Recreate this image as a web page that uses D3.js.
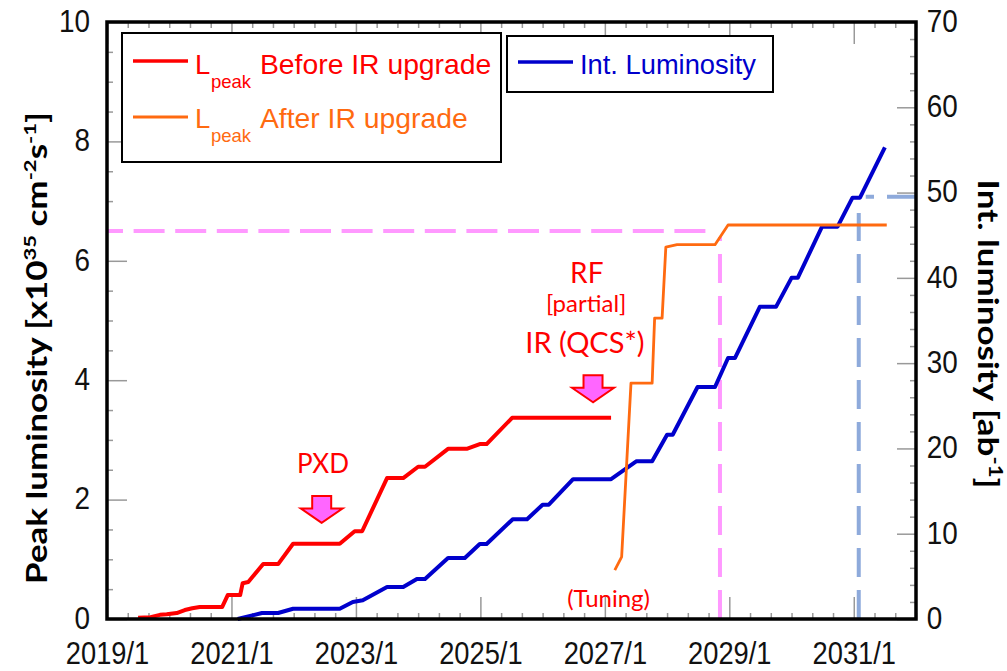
<!DOCTYPE html>
<html><head><meta charset="utf-8">
<script src="https://cdn.jsdelivr.net/npm/d3@7"></script>
<style>body{margin:0;background:#fff} svg{display:block}</style>
</head><body><svg id="c" width="1007" height="671"></svg>
<script>
// ---- data ----
const xTickValues = [2019, 2021, 2023, 2025, 2027, 2029, 2031];
const xTickLabels = ["2019/1", "2021/1", "2023/1", "2025/1", "2027/1", "2029/1", "2031/1"];
const yLeftTicks = [0, 2, 4, 6, 8, 10];
const yRightTicks = [0, 10, 20, 30, 40, 50, 60, 70];

const beforeYears = [2019.50, 2019.70, 2019.85, 2019.96, 2020.12, 2020.25, 2020.37, 2020.49, 2020.85, 2020.94, 2021.14, 2021.18, 2021.27, 2021.51, 2021.75, 2021.99, 2022.74, 2022.98, 2023.10, 2023.50, 2023.76, 2024.00, 2024.11, 2024.48, 2024.78, 2024.99, 2025.10, 2025.51, 2027.10];
const beforePeak  = [0.02, 0.03, 0.07, 0.08, 0.10, 0.15, 0.18, 0.20, 0.20, 0.40, 0.40, 0.60, 0.62, 0.92, 0.92, 1.26, 1.26, 1.47, 1.47, 2.36, 2.36, 2.55, 2.55, 2.85, 2.85, 2.93, 2.93, 3.37, 3.37];

const afterYears = [2027.16, 2027.27, 2027.42, 2027.76, 2027.80, 2027.92, 2027.98, 2028.16, 2028.77, 2028.98, 2031.53];
const afterPeak  = [0.82, 1.04, 3.95, 3.95, 5.04, 5.04, 6.23, 6.27, 6.27, 6.60, 6.60];

const intYears = [2021.10, 2021.49, 2021.75, 2021.99, 2022.74, 2022.95, 2023.11, 2023.50, 2023.76, 2023.98, 2024.11, 2024.48, 2024.75, 2024.99, 2025.10, 2025.52, 2025.75, 2026.00, 2026.10, 2026.49, 2027.10, 2027.51, 2027.76, 2028.00, 2028.09, 2028.49, 2028.77, 2028.98, 2029.09, 2029.49, 2029.75, 2030.00, 2030.10, 2030.49, 2030.74, 2030.98, 2031.10, 2031.50];
const intLum   = [0.0, 0.7, 0.7, 1.2, 1.2, 2.0, 2.2, 3.75, 3.75, 4.7, 4.7, 7.15, 7.15, 8.8, 8.8, 11.7, 11.7, 13.4, 13.4, 16.4, 16.4, 18.5, 18.5, 21.6, 21.6, 27.2, 27.2, 30.6, 30.6, 36.6, 36.6, 40.0, 40.0, 46.0, 46.0, 49.4, 49.4, 55.3];

const targetPeak = 6.5, targetPeakEnd = 2028.65, targetPeakYear = 2028.85, targetPeakTop = 6.4;
const targetIntYear = 2031.08, targetInt = 49.5, targetIntTop = 6.8;

const legend1 = ["Before IR upgrade", "After IR upgrade"];
const legend2 = "Int. Luminosity";

// ---- layout ----
const svg = d3.select("#c");
const x = d3.scaleLinear([2019, 2032], [107, 916]);
const yL = d3.scaleLinear([0, 10], [619, 22]);
const yR = d3.scaleLinear([0, 70], [619, 22]);
const RED = "#ff0000", ORANGE = "#ff6a10", BLUE = "#0000cc";
const PINK = "#ff99ff", STEEL = "#8eaadb";
const TICKC = "#999";

function styleAxis(g, fs) {
  g.select(".domain").remove();
  g.selectAll(".tick line").attr("stroke", TICKC).attr("stroke-width", 1.5);
  g.selectAll("text").attr("font-family", "Liberation Sans, Arial, sans-serif")
    .attr("font-size", fs).attr("fill", "#111");
}
const minorX = d3.range(2019, 2032.01, 1/3).filter(v => !xTickValues.some(t => Math.abs(t - v) < 1e-6));

// bottom axis
svg.append("g").attr("transform", "translate(0,619)")
  .call(d3.axisBottom(x).tickValues(minorX).tickSize(-6).tickFormat(""))
  .call(g => styleAxis(g, 0));
const gb = svg.append("g").attr("transform", "translate(0,619)")
  .call(d3.axisBottom(x).tickValues(xTickValues).tickSize(-22).tickPadding(23)
    .tickFormat((d, i) => xTickLabels[i]));
styleAxis(gb, 31);
gb.selectAll("text").attr("transform", "scale(0.88,1)");

// top axis
svg.append("g").attr("transform", "translate(0,22)")
  .call(d3.axisTop(x).tickValues(minorX).tickSize(-6).tickFormat(""))
  .call(g => styleAxis(g, 0));
svg.append("g").attr("transform", "translate(0,22)")
  .call(d3.axisTop(x).tickValues(xTickValues).tickSize(-22).tickFormat(""))
  .call(g => styleAxis(g, 0));

// left axis
svg.append("g").attr("transform", "translate(107,0)")
  .call(d3.axisLeft(yL).tickValues(d3.range(0, 10.01, 0.5).filter(v => v % 2 !== 0)).tickSize(-6).tickFormat(""))
  .call(g => styleAxis(g, 0));
const gl = svg.append("g").attr("transform", "translate(107,0)")
  .call(d3.axisLeft(yL).tickValues(yLeftTicks).tickSize(-20).tickPadding(19).tickFormat(d3.format("d")));
styleAxis(gl, 31);
gl.selectAll("text").attr("transform", "scale(0.9,1)").attr("dy", "0.3em");

// right axis
svg.append("g").attr("transform", "translate(916,0)")
  .call(d3.axisRight(yR).tickValues(d3.range(0, 70.1, 2).filter(v => v % 10 !== 0)).tickSize(-6).tickFormat(""))
  .call(g => styleAxis(g, 0));
const gr = svg.append("g").attr("transform", "translate(916,0)")
  .call(d3.axisRight(yR).tickValues(yRightTicks).tickSize(-19).tickPadding(12).tickFormat(d3.format("d")));
styleAxis(gr, 31);
gr.selectAll("text").attr("transform", "scale(0.9,1)").attr("dy", "0.3em");

// reference dashed lines
svg.append("line").attr("x1", x(2019)).attr("x2", x(targetPeakEnd))
  .attr("y1", yL(targetPeak)).attr("y2", yL(targetPeak))
  .attr("stroke", PINK).attr("stroke-width", 4).attr("stroke-dasharray", "31,10.6").attr("stroke-dashoffset", 15);
svg.append("line").attr("x1", x(targetPeakYear)).attr("x2", x(targetPeakYear))
  .attr("y1", yL(0)).attr("y2", yL(targetPeakTop))
  .attr("stroke", PINK).attr("stroke-width", 4).attr("stroke-dasharray", "29,13");
svg.append("line").attr("x1", x(targetIntYear)).attr("x2", x(targetIntYear))
  .attr("y1", yL(0)).attr("y2", yL(targetIntTop))
  .attr("stroke", STEEL).attr("stroke-width", 4).attr("stroke-dasharray", "29,13");
svg.append("line").attr("x1", x(2032)).attr("x2", x(targetIntYear) + 7)
  .attr("y1", yR(targetInt)).attr("y2", yR(targetInt))
  .attr("stroke", STEEL).attr("stroke-width", 4).attr("stroke-dasharray", "29,13");

// series
const lineL = d3.line().x(d => x(d[0])).y(d => yL(d[1]));
const lineR = d3.line().x(d => x(d[0])).y(d => yR(d[1]));
svg.append("path").datum(d3.zip(intYears, intLum)).attr("d", lineR)
  .attr("fill", "none").attr("stroke", BLUE).attr("stroke-width", 4).attr("stroke-linejoin", "round");
svg.append("path").datum(d3.zip(beforeYears, beforePeak)).attr("d", lineL)
  .attr("fill", "none").attr("stroke", RED).attr("stroke-width", 4).attr("stroke-linejoin", "round");
svg.append("path").datum(d3.zip(afterYears, afterPeak)).attr("d", lineL)
  .attr("fill", "none").attr("stroke", ORANGE).attr("stroke-width", 2.8).attr("stroke-linejoin", "round");

// frame
svg.append("path").attr("d", `M${x(2019)},${yL(10)}H${x(2032)}V${yL(0)}H${x(2019)}Z`)
  .attr("fill", "none").attr("stroke", "#000").attr("stroke-width", 3.5);

// annotations
const AF = "Lato, 'Open Sans', sans-serif";
function ann(txt, xv, yv, fs) {
  return svg.append("text").attr("x", x(xv)).attr("y", yL(yv)).attr("text-anchor", "middle")
    .attr("font-family", AF).attr("font-size", fs).attr("fill", RED).text(txt);
}
ann("PXD", 2022.47, 2.45, 26);
const rf = svg.append("text").attr("text-anchor", "middle")
  .attr("font-family", AF).attr("fill", RED);
rf.append("tspan").attr("x", x(2026.71)).attr("y", yL(5.63)).attr("font-size", 28).text("RF");
rf.append("tspan").attr("x", x(2026.70)).attr("y", yL(5.15)).attr("font-size", 24).text("[partial]");
ann("IR (QCS*)", 2026.68, 4.46, 29);
ann("(Tuning)", 2027.06, 0.2, 24);
function arrow(xv, yv) {
  const tx = x(xv), ty = yL(yv);
  const p = d3.path();
  p.moveTo(tx, ty); p.lineTo(tx - 21, ty - 14.5); p.lineTo(tx - 9.5, ty - 14.5);
  p.lineTo(tx - 9.5, ty - 27); p.lineTo(tx + 9.5, ty - 27); p.lineTo(tx + 9.5, ty - 14.5);
  p.lineTo(tx + 21, ty - 14.5); p.closePath();
  svg.append("path").attr("d", p.toString()).attr("fill", "#ff66ff")
    .attr("stroke", RED).attr("stroke-width", 2).attr("stroke-linejoin", "miter");
}
arrow(2022.45, 1.61);
arrow(2026.81, 3.63);

// legends
const LF = "Liberation Sans, Arial, sans-serif";
svg.append("rect").attr("x", 122).attr("y", 33).attr("width", 379).attr("height", 129)
  .attr("fill", "#fff").attr("stroke", "#000").attr("stroke-width", 2);
[[RED, 61, 74, 3.5], [ORANGE, 117, 128, 2.8]].forEach((r, i) => {
  svg.append("line").attr("x1", 133).attr("x2", 188).attr("y1", r[1]).attr("y2", r[1])
    .attr("stroke", r[0]).attr("stroke-width", r[3]);
  svg.append("text").attr("x", 195).attr("y", r[2]).attr("font-family", LF).attr("font-size", 27.5)
    .attr("fill", r[0]).text("L");
  svg.append("text").attr("x", 211).attr("y", r[2] + 14).attr("font-family", LF).attr("font-size", 18.5)
    .attr("fill", r[0]).text("peak");
  svg.append("text").attr("x", 260).attr("y", r[2]).attr("font-family", LF).attr("font-size", 28.3)
    .attr("fill", r[0]).text(legend1[i]);
});
svg.append("rect").attr("x", 507).attr("y", 36).attr("width", 266).attr("height", 56)
  .attr("fill", "#fff").attr("stroke", "#000").attr("stroke-width", 2);
svg.append("line").attr("x1", 518).attr("x2", 573).attr("y1", 62).attr("y2", 62)
  .attr("stroke", BLUE).attr("stroke-width", 3.5);
svg.append("text").attr("x", 580).attr("y", 74).attr("font-family", LF).attr("font-size", 27.3)
  .attr("fill", BLUE).text(legend2);

// axis titles
const TF = "Lato, 'Open Sans', sans-serif";
const tl = svg.append("text").attr("transform", "translate(47,348) rotate(-90) scale(1,0.8)")
  .attr("text-anchor", "middle").attr("font-family", TF).attr("font-weight", "bold")
  .attr("font-size", 35).attr("fill", "#000");
tl.append("tspan").text("Peak luminosity [x10");
tl.append("tspan").attr("dy", -14).attr("font-size", 22).text("35");
tl.append("tspan").attr("dy", 14).text(" cm");
tl.append("tspan").attr("dy", -14).attr("font-size", 22).text("-2");
tl.append("tspan").attr("dy", 14).text("s");
tl.append("tspan").attr("dy", -14).attr("font-size", 22).text("-1");
tl.append("tspan").attr("dy", 14).text("]");

const tr = svg.append("text").attr("transform", "translate(978,334) rotate(90) scale(1,0.82)")
  .attr("text-anchor", "middle").attr("font-family", TF).attr("font-weight", "bold")
  .attr("font-size", 35).attr("fill", "#000");
tr.append("tspan").text("Int. luminosity [ab");
tr.append("tspan").attr("dy", -14).attr("font-size", 22).text("-1");
tr.append("tspan").attr("dy", 14).text("]");
</script></body></html>
